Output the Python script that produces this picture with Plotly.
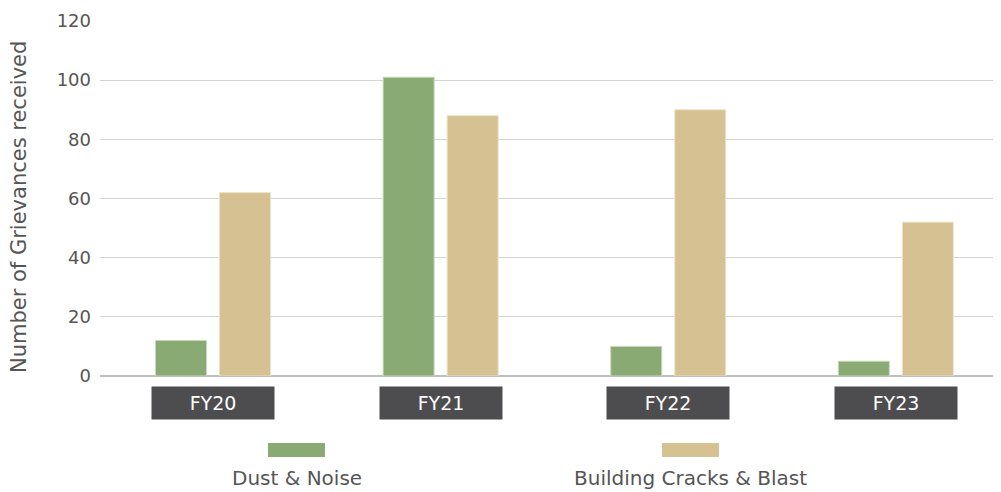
import plotly.graph_objects as go

categories = ["FY20", "FY21", "FY22", "FY23"]
dust_noise = [12, 101, 10, 5]
building_cracks = [62, 88, 90, 52]
series_names = ["Dust & Noise", "Building Cracks & Blast"]
y_ticks = [0, 20, 40, 60, 80, 100, 120]
y_title = "Number of Grievances received"

GREEN = "#89AB73"
TAN = "#D5C192"
FONT = "DejaVu Sans"
TXT = "#555555"

fig = go.Figure()
fig.add_trace(go.Bar(x=categories, y=dust_noise, name=series_names[0],
                     marker=dict(color=GREEN, line=dict(color="#C9D9BD", width=1))))
fig.add_trace(go.Bar(x=categories, y=building_cracks, name=series_names[1],
                     marker=dict(color=TAN, line=dict(color="#EDE3CB", width=1))))

# category label boxes
for c in categories:
    fig.add_annotation(x=c, xref="x", y=-0.076, yref="paper", yanchor="middle",
                       text=c, showarrow=False, width=120, height=30,
                       bgcolor="#4D4D4F", font=dict(family=FONT, size=19, color="white"))

# custom legend: swatch above label
legend_items = [(series_names[0], GREEN, 0.1865, 0.2497),
                (series_names[1], TAN, 0.6238, 0.6870)]
for name, col, x0, x1 in legend_items:
    fig.add_shape(type="rect", xref="paper", yref="paper", x0=x0, x1=x1,
                  y0=-0.2282, y1=-0.1887, fillcolor=col, line=dict(width=0))
    fig.add_annotation(x=(x0 + x1) / 2, xref="paper", y=-0.287, yref="paper",
                       yanchor="middle", xanchor="center", text=name, showarrow=False,
                       font=dict(family=FONT, size=20, color=TXT))

# y-axis title
fig.add_annotation(x=-0.0899, xref="paper", y=0.476, yref="paper", textangle=-90,
                   xanchor="center", yanchor="middle", text=y_title, showarrow=False,
                   font=dict(family=FONT, size=21, color=TXT))

fig.update_layout(
    width=993, height=484,
    margin=dict(l=92, r=0, t=13, b=116),
    paper_bgcolor="white", plot_bgcolor="white",
    barmode="group", bargap=0.4376, bargroupgap=0.203,
    showlegend=False,
    font=dict(family=FONT, size=17, color=TXT),
    xaxis=dict(type="category", range=[-0.4965, 3.462], showticklabels=False,
               showgrid=False, zeroline=False, showline=False, ticks=""),
    yaxis=dict(range=[0, 120], tickvals=y_ticks, showgrid=True, gridcolor="#D4D4D4",
               gridwidth=1, zeroline=True, zerolinecolor="#BFBFBF", zerolinewidth=1.5,
               automargin=False,
               ticklabelstandoff=8, tickfont=dict(family=FONT, size=18, color=TXT)),
)

fig.write_html("out.html")
